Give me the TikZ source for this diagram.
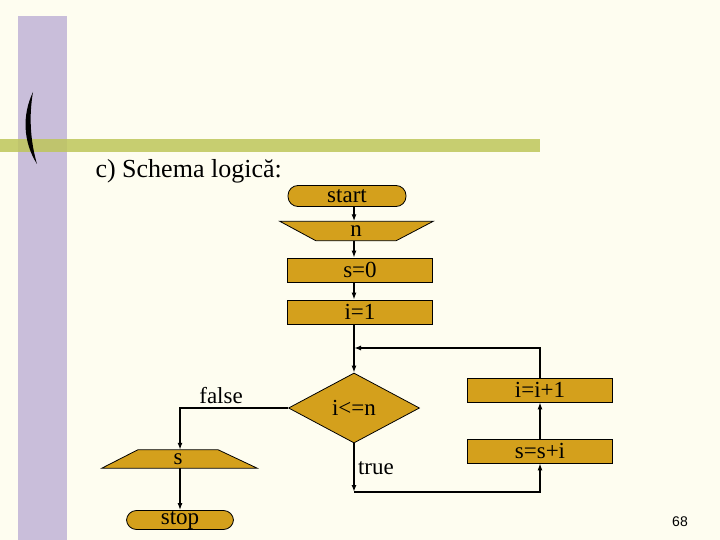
\documentclass[tikz,border=0pt]{standalone}
\usepackage{fontspec}
\setmainfont{Liberation Serif}
\newfontfamily\pagefont{Liberation Sans}
\usetikzlibrary{arrows.meta, shapes.geometric, positioning, backgrounds}

\definecolor{bgcream}{RGB}{254,253,240}
\definecolor{barlilac}{RGB}{201,190,218}
\definecolor{barolive}{RGB}{190,198,90}
\definecolor{boxgold}{RGB}{212,160,28}

\begin{document}
\begin{tikzpicture}[x=1pt,y=-1pt,>={Latex[length=7pt,width=5pt]},
  link/.style={->,line width=1.5pt},
  lbl/.style={font=\fontsize{23}{23}\selectfont},
  shapefill/.style={draw=black,line width=0.8pt,fill=boxgold},
  proc/.style={shapefill,inner sep=0pt,lbl,minimum width=145pt,minimum height=24pt},
  term/.style={proc,rounded corners=10pt,minimum width=118pt,minimum height=21pt},
  io/.style={lbl,inner sep=0pt,minimum width=80pt,minimum height=19pt},
  test/.style={proc,diamond,minimum width=131pt,minimum height=70pt}]

% background and slide decoration
  \begin{pgfonlayer}{background}
  \fill[bgcream] (0,0) rectangle (720,540);
  \fill[barlilac] (18,16) rectangle (67,540);
  \fill[barolive,opacity=0.85] (0,139) rectangle (540,152);
  \fill[black] (33,92) .. controls (22,115) and (23,142) .. (37,164)
     .. controls (30,140) and (29,115) .. (33,92) -- cycle;
  \end{pgfonlayer}
  \useasboundingbox (0,0) rectangle (720,540);

  \node[anchor=west,font=\fontsize{26}{26}\selectfont] (title) at (92,171) {c) Schema logică:};

% define the blocks
  \node[term] (start) at (347,196) {start};
  \node[io] (read) at (356,231) {n};
  \node[proc] (init0) at (360,270) {s=0};
  \node[proc] (init1) at (360,312) {i=1};
  \node[test] (cond) at (354,408) {i<=n};
  \node[proc] (inc) at (540,390) {i=i+1};
  \node[proc] (sum) at (540,451) {s=s+i};
  \node[io,minimum height=18pt] (write) at (178,459) {s};
  \node[term,minimum width=107pt,minimum height=19pt] (stop) at (180,520) {stop};

% the two slanted input/output blocks
  \begin{pgfonlayer}{background}
  \filldraw[shapefill] (read.south west) -- (read.south east)
     -- ([xshift=37pt]read.north east) -- ([xshift=-36pt]read.north west) -- cycle;
  \filldraw[shapefill] (write.north west) -- (write.north east)
     -- ([xshift=39pt]write.south east) -- ([xshift=-36pt]write.south west) -- cycle;
  \end{pgfonlayer}

  \coordinate (join) at (354,348);
  \coordinate (down) at (354,492);

% define the links
  \draw[link] (start.south -| cond) -- (read.north -| cond);
  \draw[link] (read.south -| cond) -- (init0.north -| cond);
  \draw[link] (init0.south -| cond) -- (init1.north -| cond);
  \draw[link] (init1.south -| cond) -- (cond.north);
  \draw[link] (cond.west) -| node[pos=0.31,above,lbl] {false} ([xshift=2pt]write.north);
  \draw[link] ([xshift=2pt]write.south) -- (stop);
  \draw[link] (cond.south) -- node[right,lbl] {true} (down);
  \draw[link] (down) -| (sum.south);
  \draw[link] (sum) -- (inc);
  \draw[link] (inc.north) |- (join);

  \node[font=\pagefont\fontsize{14}{14}\selectfont] (page) at (680,522) {68};
\end{tikzpicture}
\end{document}
